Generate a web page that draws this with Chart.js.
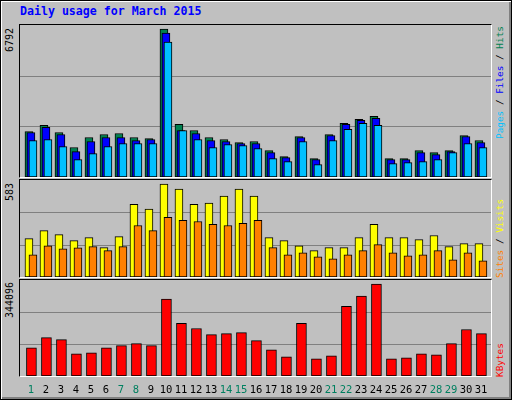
<!DOCTYPE html>
<html>
<head>
<meta charset="utf-8">
<script src="https://cdn.jsdelivr.net/npm/chart.js@4"></script>
<style>
    body { margin: 0; width: 512px; height: 400px; overflow: hidden; background: #C0C0C0; }
    #frame { position: absolute; left: 0; top: 0; width: 510px; height: 398px; border: 1px solid #000; box-shadow: inset 1px 1px 0 #fff, inset -2px -2px 0 #808080; }
    .box { position: absolute; left: 19px; width: 471px; border-top: 1px solid #000; border-left: 1px solid #000; border-right: 1px solid #fff; border-bottom: 1px solid #fff; }
    .box canvas { display: block; }
    .txt { position: absolute; font-family: "DejaVu Sans Mono", monospace; white-space: nowrap; }
    .rotl { transform-origin: left top; transform: rotate(-90deg); }
    #title { left: 20px; top: 4px; font-size: 11.6px; font-weight: bold; color: #0000FF; }
</style>
</head>
<body>
<div id="frame"></div>
<div class="txt" id="title">Daily usage for March 2015</div>

<div class="box" style="top:24px;height:152px"><canvas id="chartHits" width="471" height="152"></canvas></div>
<div class="box" style="top:179px;height:97px"><canvas id="chartVisits" width="471" height="97"></canvas></div>
<div class="box" style="top:279px;height:96px"><canvas id="chartKbytes" width="471" height="121"></canvas></div>

<div class="txt rotl" style="left:4px;top:52px;font-size:10px">6792</div>
<div class="txt rotl" style="left:4px;top:201px;font-size:10px">583</div>
<div class="txt rotl" style="left:4px;top:318px;font-size:10px">344096</div>

<div class="txt rotl" style="left:494px;top:139px;font-size:9.4px"><span style="color:#00C0FF">Pages</span> / <span style="color:#0000FF">Files</span> / <span style="color:#008050">Hits</span></div>
<div class="txt rotl" style="left:494px;top:278px;font-size:9.4px"><span style="color:#FF8000">Sites</span> / <span style="color:#FFFF00">Visits</span></div>
<div class="txt rotl" style="left:494px;top:377px;font-size:9.4px;color:#FF0000">KBytes</div>

<script>
// values
const days = [1,2,3,4,5,6,7,8,9,10,11,12,13,14,15,16,17,18,19,20,21,22,23,24,25,26,27,28,29,30,31];
const weekendDays = [1,7,8,14,15,21,22,28,29];
const hits = [2090,2367,2044,1353,1814,1952,1998,1814,1768,6792,2413,2136,1814,1721,1583,1629,1214,937,1860,845,1952,2459,2644,2782,845,845,1214,1122,1214,1906,1675];
const files = [2044,2275,1952,1168,1629,1814,1814,1675,1721,6609,2136,1998,1675,1629,1537,1537,1122,891,1814,799,1906,2413,2597,2690,799,799,1122,1030,1168,1860,1583];
const pages = [1675,1721,1399,799,1076,1399,1537,1537,1537,6194,2136,1721,1353,1491,1445,1306,845,707,1629,569,1675,2183,2459,2367,615,661,707,799,1122,1537,1353];
const visits = [241,291,266,228,247,184,253,456,425,583,551,456,463,507,551,507,247,228,196,165,184,184,247,330,247,247,234,260,190,209,209];
const sites = [139,196,177,183,190,165,190,323,291,374,355,348,330,323,336,355,184,139,152,127,114,139,165,203,152,133,139,165,108,152,101];
const kbytes = [105874,143686,136123,83186,86968,105874,113436,120998,113436,287371,196622,177716,155029,158810,162592,132342,98311,71843,196622,64280,75624,260903,298715,344096,64280,68062,83186,79405,120998,173935,158810];

const pxPerDay = 15;
const xMin = 0.27, xMax = xMin + 471 / pxPerDay;

const toPoints = (vals, shiftPx) => vals.map((v, i) => ({ x: days[i] + shiftPx / pxPerDay, y: v }));

// draws the two grey grid lines at a third and two thirds of the box
const gridThirds = {
    id: 'gridThirds',
    beforeDatasetsDraw(chart) {
        const ctx = chart.ctx, area = chart.chartArea, y = chart.scales.y;
        ctx.save();
        ctx.strokeStyle = '#808080';
        ctx.lineWidth = 1;
        [1 / 3, 2 / 3].forEach(f => {
            const py = Math.round(y.getPixelForValue(y.max * f)) + 0.5;
            ctx.beginPath();
            ctx.moveTo(area.left, py);
            ctx.lineTo(area.right, py);
            ctx.stroke();
        });
        ctx.restore();
    }
};

// day numbers under the bottom panel
const dayLabels = {
    id: 'dayLabels',
    afterDraw(chart) {
        const ctx = chart.ctx, x = chart.scales.x;
        ctx.save();
        ctx.font = '10.5px "DejaVu Sans Mono", monospace';
        ctx.textAlign = 'center';
        ctx.textBaseline = 'middle';
        days.forEach(d => {
            ctx.fillStyle = weekendDays.includes(d) ? '#008060' : '#000000';
            ctx.fillText(String(d), x.getPixelForValue(d), 110);
        });
        ctx.restore();
    }
};

// order: lower numbers are drawn last (in front)
const barSet = (data, color, width, order) => ({
    data: data,
    backgroundColor: color,
    borderColor: '#000',
    borderWidth: 1,
    borderSkipped: false,
    barThickness: width,
    grouped: false,
    order: order
});

const makeChart = (id, datasets, yMax, bottomPad, extraPlugins) => new Chart(document.getElementById(id), {
    type: 'bar',
    data: { datasets: datasets },
    options: {
        responsive: false,
        animation: false,
        devicePixelRatio: 1,
        layout: { padding: { bottom: bottomPad } },
        plugins: { legend: { display: false }, tooltip: { enabled: false } },
        scales: {
            x: { type: 'linear', min: xMin, max: xMax, offset: false, display: false },
            y: { min: 0, max: yMax, display: false }
        }
    },
    plugins: [gridThirds].concat(extraPlugins)
});

makeChart('chartHits', [
    barSet(toPoints(hits, -2), '#008050', 8, 3),
    barSet(toPoints(files, 0), '#0000FF', 8, 2),
    barSet(toPoints(pages, 2), '#00C0FF', 8, 1)
], 6976, 0, []);

makeChart('chartVisits', [
    barSet(toPoints(visits, -2), '#FFFF00', 8, 2),
    barSet(toPoints(sites, 2), '#FF8000', 8, 1)
], 608, 0, []);

makeChart('chartKbytes', [
    barSet(toPoints(kbytes, 0.5), '#FF0000', 10, 1)
], 359222, 25, [dayLabels]);
</script>
</body>
</html>
